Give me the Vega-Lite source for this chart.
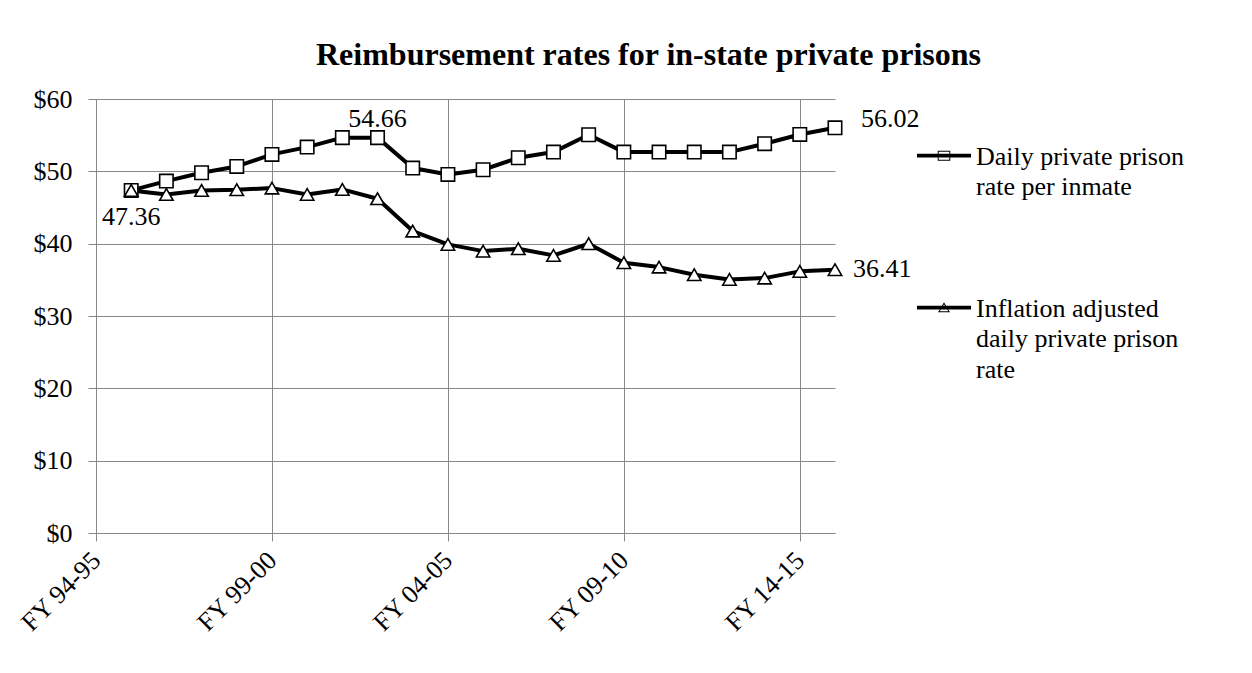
{
  "$schema": "https://vega.github.io/schema/vega-lite/v6.json",
  "autosize": "none",
  "width": 739,
  "height": 434,
  "padding": {"left": 96, "top": 99, "right": 417, "bottom": 140},
  "background": "white",
  "config": {
    "font": "Liberation Serif",
    "view": {"stroke": null},
    "style": {"guide-label": {"lineHeight": 30.5}},
    "axis": {
      "labelFont": "Liberation Serif",
      "labelFontSize": 26,
      "labelColor": "black",
      "domainColor": "#888888",
      "gridColor": "#888888",
      "gridOpacity": 1,
      "gridWidth": 1,
      "tickColor": "#888888",
      "tickSize": 8,
      "tickWidth": 1,
      "domainWidth": 1,
      "title": null
    }
  },
  "title": {
    "text": "Reimbursement rates for in-state private prisons",
    "font": "Liberation Serif",
    "fontSize": 32,
    "fontWeight": "bold",
    "color": "black",
    "anchor": "middle",
    "frame": "group",
    "baseline": "alphabetic",
    "offset": 35,
    "dx": 183,
    "dy": 46
  },
  "data": {
    "values": [
      {"year": 1995, "series": "Daily private prison rate per inmate", "rate": 47.36},
      {"year": 1996, "series": "Daily private prison rate per inmate", "rate": 48.65},
      {"year": 1997, "series": "Daily private prison rate per inmate", "rate": 49.80},
      {"year": 1998, "series": "Daily private prison rate per inmate", "rate": 50.68},
      {"year": 1999, "series": "Daily private prison rate per inmate", "rate": 52.34},
      {"year": 2000, "series": "Daily private prison rate per inmate", "rate": 53.35},
      {"year": 2001, "series": "Daily private prison rate per inmate", "rate": 54.66},
      {"year": 2002, "series": "Daily private prison rate per inmate", "rate": 54.66},
      {"year": 2003, "series": "Daily private prison rate per inmate", "rate": 50.45},
      {"year": 2004, "series": "Daily private prison rate per inmate", "rate": 49.57},
      {"year": 2005, "series": "Daily private prison rate per inmate", "rate": 50.22},
      {"year": 2006, "series": "Daily private prison rate per inmate", "rate": 51.88},
      {"year": 2007, "series": "Daily private prison rate per inmate", "rate": 52.66},
      {"year": 2008, "series": "Daily private prison rate per inmate", "rate": 55.06},
      {"year": 2009, "series": "Daily private prison rate per inmate", "rate": 52.66},
      {"year": 2010, "series": "Daily private prison rate per inmate", "rate": 52.66},
      {"year": 2011, "series": "Daily private prison rate per inmate", "rate": 52.66},
      {"year": 2012, "series": "Daily private prison rate per inmate", "rate": 52.66},
      {"year": 2013, "series": "Daily private prison rate per inmate", "rate": 53.82},
      {"year": 2014, "series": "Daily private prison rate per inmate", "rate": 55.10},
      {"year": 2015, "series": "Daily private prison rate per inmate", "rate": 56.02},
      {"year": 1995, "series": "Inflation adjusted daily private prison rate", "rate": 47.36},
      {"year": 1996, "series": "Inflation adjusted daily private prison rate", "rate": 46.80},
      {"year": 1997, "series": "Inflation adjusted daily private prison rate", "rate": 47.36},
      {"year": 1998, "series": "Inflation adjusted daily private prison rate", "rate": 47.46},
      {"year": 1999, "series": "Inflation adjusted daily private prison rate", "rate": 47.68},
      {"year": 2000, "series": "Inflation adjusted daily private prison rate", "rate": 46.81},
      {"year": 2001, "series": "Inflation adjusted daily private prison rate", "rate": 47.50},
      {"year": 2002, "series": "Inflation adjusted daily private prison rate", "rate": 46.21},
      {"year": 2003, "series": "Inflation adjusted daily private prison rate", "rate": 41.74},
      {"year": 2004, "series": "Inflation adjusted daily private prison rate", "rate": 39.90},
      {"year": 2005, "series": "Inflation adjusted daily private prison rate", "rate": 38.97},
      {"year": 2006, "series": "Inflation adjusted daily private prison rate", "rate": 39.30},
      {"year": 2007, "series": "Inflation adjusted daily private prison rate", "rate": 38.38},
      {"year": 2008, "series": "Inflation adjusted daily private prison rate", "rate": 39.99},
      {"year": 2009, "series": "Inflation adjusted daily private prison rate", "rate": 37.37},
      {"year": 2010, "series": "Inflation adjusted daily private prison rate", "rate": 36.76},
      {"year": 2011, "series": "Inflation adjusted daily private prison rate", "rate": 35.71},
      {"year": 2012, "series": "Inflation adjusted daily private prison rate", "rate": 35.06},
      {"year": 2013, "series": "Inflation adjusted daily private prison rate", "rate": 35.24},
      {"year": 2014, "series": "Inflation adjusted daily private prison rate", "rate": 36.17},
      {"year": 2015, "series": "Inflation adjusted daily private prison rate", "rate": 36.41}
    ]
  },
  "encoding": {
    "x": {
      "field": "year",
      "type": "quantitative",
      "scale": {"domain": [1994, 2015], "nice": false, "zero": false},
      "axis": {
        "values": [1994, 1999, 2004, 2009, 2014],
        "labelExpr": "'FY ' + substring(toString(datum.value), 2, 4) + '-' + substring(toString(datum.value + 1), 2, 4)",
        "labelAngle": -45,
        "labelAlign": "right",
        "labelBaseline": "middle",
        "labelPadding": 15,
        "grid": true
      }
    },
    "y": {
      "field": "rate",
      "type": "quantitative",
      "scale": {"domain": [0, 60], "nice": false},
      "axis": {
        "values": [0, 10, 20, 30, 40, 50, 60],
        "format": "$.0f",
        "labelPadding": 16,
        "grid": true
      }
    }
  },
  "layer": [
    {
      "mark": {"type": "line", "color": "black", "strokeWidth": 4, "strokeJoin": "round"},
      "encoding": {"detail": {"field": "series"}}
    },
    {
      "mark": {"type": "point", "filled": true, "fill": "white", "stroke": "black", "strokeWidth": 1.6, "size": 180, "opacity": 1},
      "encoding": {
        "shape": {
          "field": "series",
          "type": "nominal",
          "scale": {
            "domain": ["Daily private prison rate per inmate", "Inflation adjusted daily private prison rate"],
            "range": ["square", "triangle-up"]
          },
          "legend": null
        }
      }
    },
    {
      "mark": {"type": "point", "filled": true, "color": "black", "size": 0, "strokeWidth": 0},
      "encoding": {
        "shape": {
          "field": "series",
          "type": "nominal",
          "scale": {
            "domain": ["Daily private prison rate per inmate", "Inflation adjusted daily private prison rate"],
            "range": [
              "M-1,0.382H1V0.522H-1Z M-0.233,0.267H0.233V0.637H-0.233Z M-0.196,0.304V0.6H0.196V0.304Z",
              "M-1,0.382H1V0.522H-1Z M0,0.252L0.222,0.622H-0.222Z M0,0.322L-0.16,0.587H0.16Z"
            ]
          },
          "legend": {
            "title": null,
            "orient": "none",
            "legendX": 821,
            "legendY": 17.5,
            "padding": 0,
            "symbolSize": 2916,
            "symbolFillColor": "black",
            "symbolStrokeWidth": 0,
            "symbolOpacity": 1,
            "labelOffset": 5,
            "labelFont": "Liberation Serif",
            "labelFontSize": 26,
            "labelColor": "black",
            "labelLimit": 400,
            "labelBaseline": "top",
            "rowPadding": 68,
            "labelExpr": "datum.label == 'Daily private prison rate per inmate' ? ['Daily private prison', 'rate per inmate'] : ['Inflation adjusted', 'daily private prison', 'rate']"
          }
        }
      }
    },
    {
      "transform": [{"filter": "datum.year == 1995 && datum.series == 'Inflation adjusted daily private prison rate'"}],
      "mark": {"type": "text", "font": "Liberation Serif", "fontSize": 26, "color": "black", "align": "center", "baseline": "alphabetic", "dy": 35},
      "encoding": {"text": {"field": "rate", "type": "quantitative", "format": ".2f"}}
    },
    {
      "transform": [{"filter": "datum.year == 2002 && datum.series == 'Daily private prison rate per inmate'"}],
      "mark": {"type": "text", "font": "Liberation Serif", "fontSize": 26, "color": "black", "align": "center", "baseline": "alphabetic", "dy": -11},
      "encoding": {"text": {"field": "rate", "type": "quantitative", "format": ".2f"}}
    },
    {
      "transform": [{"filter": "datum.year == 2015 && datum.series == 'Daily private prison rate per inmate'"}],
      "mark": {"type": "text", "font": "Liberation Serif", "fontSize": 26, "color": "black", "align": "left", "baseline": "alphabetic", "dx": 26, "dy": -1},
      "encoding": {"text": {"field": "rate", "type": "quantitative", "format": ".2f"}}
    },
    {
      "transform": [{"filter": "datum.year == 2015 && datum.series == 'Inflation adjusted daily private prison rate'"}],
      "mark": {"type": "text", "font": "Liberation Serif", "fontSize": 26, "color": "black", "align": "left", "baseline": "alphabetic", "dx": 18, "dy": 7},
      "encoding": {"text": {"field": "rate", "type": "quantitative", "format": ".2f"}}
    }
  ],
  "resolve": {"scale": {"shape": "independent"}}
}
